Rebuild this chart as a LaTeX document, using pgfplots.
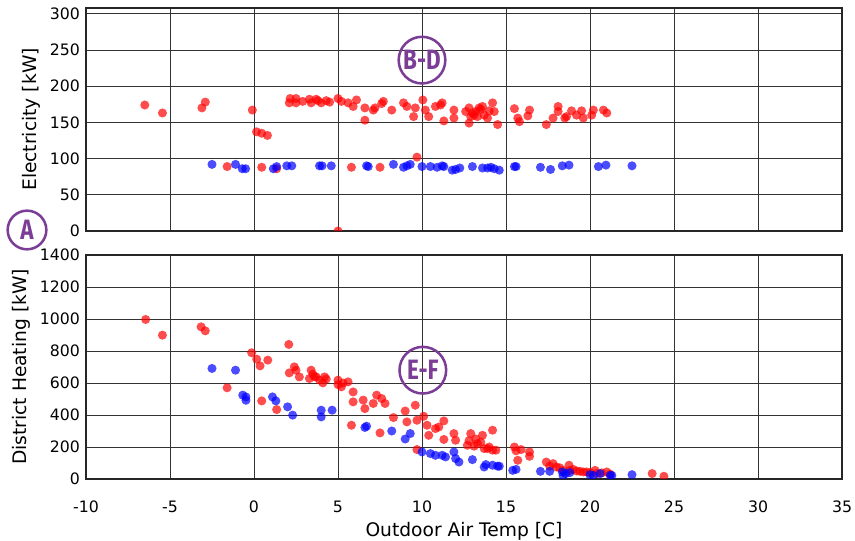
\documentclass[border=0pt]{standalone}
\usepackage{pgfplots}
\pgfplotsset{compat=1.18}
\usepackage{pgfplotstable}
\usepackage{fontspec}
\setmainfont{DejaVu Sans}
\newfontfamily\labfont{Fira Sans}
\definecolor{annot}{RGB}{123,61,150}

\pgfplotstableread{
x y
-6.5 174
-5.45 163
-3.1 170
-2.9 178
-1.6 89
-0.1 167
0.15 137
0.46 135
0.8 132
0.46 88
1.35 86
2.15 183
2.1 177
2.5 183
2.5 177
2.9 179
3.3 182
3.4 177
3.7 182
3.8 180
4.0 177
4.3 180
4.5 178
5.0 183
5.0 0
5.2 179
5.6 177
5.8 88
5.9 172
6.1 181
6.6 170
6.6 153
7.1 167
7.2 170
7.5 88
7.7 179
7.6 176
8.2 167
8.9 177
9.1 172
9.5 158
9.6 170
9.7 102
10.05 181
10.2 167
10.4 158
10.8 172
11.1 174
11.2 177
11.3 152
11.9 167
11.9 156
12.6 165
12.8 170
12.9 158
12.8 149
13.0 163
13.1 160
13.2 165
13.3 158
13.4 170
13.5 168
13.6 172
13.7 160
13.9 156
14.0 166
14.2 177
14.3 165
14.5 147
15.5 169
15.7 156
15.8 151
16.3 159
16.4 167
17.4 147
17.8 156
18.1 172
18.1 165
18.5 156
18.6 158
18.9 166
19.2 160
19.5 166
19.6 156
20.1 160
20.2 167
20.8 167
21.0 163
}\elecred

\pgfplotstableread{
x y
-2.5 92
-1.1 92
-0.7 86
-0.5 86
1.15 86
1.35 89
1.95 90
2.25 90
3.9 90
4.05 90
4.6 90
6.7 90
6.8 89
8.3 92
8.9 88
9.1 90
9.3 92
10.0 89
10.5 89
10.9 88
11.2 90
11.3 89
11.8 84
12.0 85
12.25 87
13.0 89
13.6 87
13.9 87
14.1 88
14.3 86
14.6 84
15.5 89
15.6 89
17.05 88
17.65 85
18.35 90
18.75 91
20.5 89
20.95 91
22.5 90
}\elecblue

\pgfplotstableread{
x y
-6.45 997
-5.45 899
-3.15 951
-2.9 926
-1.6 570
-0.14 789
0.16 749
0.36 707
0.82 743
0.46 488
1.35 434
2.07 841
2.1 663
2.4 701
2.5 680
2.7 638
3.3 628
3.4 680
3.5 655
3.6 640
3.7 638
3.9 618
4.1 601
4.2 638
4.3 625
5.0 618
5.0 590
5.2 576
5.3 600
5.6 607
5.9 544
5.9 482
6.5 493
6.6 440
7.1 472
7.3 524
7.6 503
7.8 472
5.8 336
7.5 288
8.3 384
9.0 425
9.1 357
9.6 461
9.7 367
10.1 392
10.3 336
10.8 315
11.0 325
11.3 363
10.4 273
11.3 247
11.9 284
12.0 242
12.7 211
12.8 240
12.9 284
13.1 205
13.2 250
13.3 221
13.5 230
13.6 273
13.7 190
13.9 190
14.0 200
14.2 180
14.2 305
14.4 180
9.7 184
15.5 200
15.6 176
15.7 117
15.9 184
16.4 169
16.4 142
17.4 106
17.6 80
17.8 96
18.0 75
18.2 70
18.4 54
18.75 86
18.8 54
19.0 60
19.2 50
19.4 48
19.6 44
19.8 44
20.0 40
20.3 54
20.4 34
20.7 38
21.0 44
21.2 30
23.7 34
24.4 17
}\heatred

\pgfplotstableread{
x y
-2.5 691
-1.1 680
-0.67 524
-0.48 513
-0.48 492
1.1 513
1.3 488
2.0 451
2.3 399
4.0 430
4.0 388
4.65 430
6.7 330
6.6 322
8.2 300
9.0 250
9.3 284
10.0 169
10.5 159
10.8 148
11.2 148
11.4 138
11.9 169
12.0 128
12.2 106
13.0 121
13.7 75
13.8 90
14.2 86
14.5 80
14.6 80
15.4 54
15.6 60
17.05 48
17.6 48
18.35 44
18.55 34
18.4 20
18.8 40
20.0 27
20.2 22
20.6 34
21.2 23
21.3 22
22.5 27
}\heatblue

\pgfplotsset{
  common/.style={
    scale only axis,
    width=567pt,
    xmin=-10, xmax=35,
    xtick={-10,-5,...,35},
    grid=major,
    major grid style={black!80, line width=0.6pt},
    axis line style={black!85, line width=1.4pt},
    major tick length=0pt,
    tick label style={font=\fontsize{11.8}{13}\selectfont},
    label style={font=\fontsize{14}{16}\selectfont},
    /pgf/number format/assume math mode=true,
    /pgf/number format/1000 sep={},
    yticklabel style={xshift=-1pt},
    xticklabel style={yshift=-13pt},
    clip mode=individual,
    clip marker paths=true,
  },
  rdot/.style={only marks, mark=*, mark size=3.4pt, color=red, mark options={draw opacity=0, fill=red, fill opacity=0.7}},
  bdot/.style={only marks, mark=*, mark size=3.4pt, color=blue, mark options={draw opacity=0, fill=blue, fill opacity=0.7}},
}

\begin{document}
\begin{tikzpicture}
\path[use as bounding box] (0,0) rectangle (641.25pt,405.75pt);
\begin{axis}[common, name=top,
  at={(64.5pt,232.5pt)}, anchor=south west,
  height=167.25pt,
  ymin=0, ymax=308,
  ytick={0,50,...,300},
  xticklabels={},
  ylabel={Electricity [kW]},
]
\addplot[rdot] table {\elecred};
\addplot[bdot] table {\elecblue};
\node[draw=annot, line width=1.9pt, circle, minimum size=35pt, inner sep=0pt, text=annot, font=\labfont\bfseries\fontsize{21}{21}\selectfont] at (axis cs:10,236) {\scalebox{0.8}[1]{B-D}};
\end{axis}
\begin{axis}[common, name=bottom,
  at={(64.5pt,46.5pt)}, anchor=south west,
  height=168pt,
  ymin=0, ymax=1400,
  ytick={0,200,...,1400},
  xlabel={Outdoor Air Temp [C]},
  ylabel={District Heating [kW]},
]
\addplot[rdot] table {\heatred};
\addplot[bdot] table {\heatblue};
\node[draw=annot, line width=1.9pt, circle, minimum size=35pt, inner sep=0pt, text=annot, font=\labfont\bfseries\fontsize{21}{21}\selectfont] at (axis cs:10.05,680) {\scalebox{0.8}[1]{E-F}};
\end{axis}
\node[draw=annot, line width=1.9pt, circle, minimum size=29pt, inner sep=0pt, text=annot, font=\labfont\bfseries\fontsize{21}{21}\selectfont] at (20.25pt,233.25pt) {\scalebox{0.8}[1]{A}};
\end{tikzpicture}
\end{document}
